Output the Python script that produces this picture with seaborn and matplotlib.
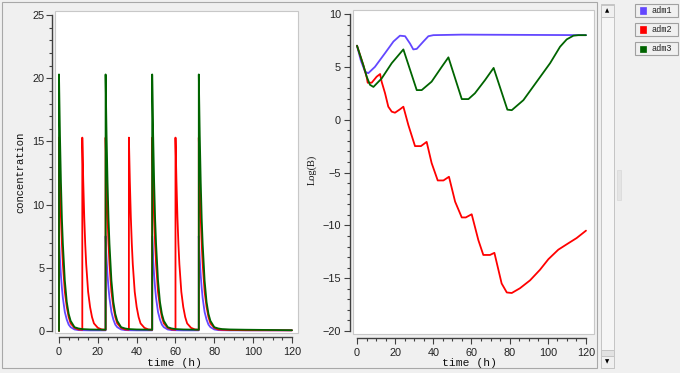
import numpy as np
import pandas as pd
import matplotlib
matplotlib.use("Agg")
import matplotlib.pyplot as plt
import seaborn as sns
from matplotlib.patches import Rectangle
from matplotlib.ticker import MultipleLocator

# ---------------- data ----------------
series_names = ["adm1", "adm2", "adm3"]
series_colors = ["#6347ff", "#ff0000", "#006400"]

# dosing times (h)
dose_times_adm1 = [0, 24, 48, 72]
dose_times_adm2 = [0, 12, 24, 36, 48, 60, 72]
dose_times_adm3 = [0, 24, 48, 72]

# concentration after one dose, read at these hours after the dose
profile_hours = [0, 0.5, 1, 1.5, 2, 3, 4, 5, 6, 8, 10, 12, 16, 24, 48]
profile_adm1 = [7.5, 5.7, 4.4, 3.4, 2.6, 1.5, 0.9, 0.5, 0.3, 0.12, 0.07, 0.06, 0.05, 0.05, 0.05]
profile_adm2 = [15.3, 11.8, 9.0, 6.9, 5.3, 3.1, 1.9, 1.1, 0.6, 0.25, 0.12, 0.1, 0.08, 0.06, 0.05]
profile_adm3 = [20.3, 15.5, 11.8, 8.9, 6.9, 4.0, 2.3, 1.35, 0.8, 0.3, 0.2, 0.15, 0.12, 0.1, 0.06]

# Log(B) curves
logb_time_adm1 = [0, 2, 4.2, 5.9, 9.4, 14.7, 19.1, 22.5, 25.2, 27.8, 29.5, 31.3, 34.8, 37.4, 40, 55, 120]
logb_adm1 = [7.0, 5.6, 4.55, 4.4, 5.0, 6.3, 7.4, 7.95, 7.9, 7.2, 6.65, 6.7, 7.4, 7.9, 8.0, 8.05, 8.0]

logb_time_adm2 = [0, 3.3, 5.1, 5.6, 7.7, 10.3, 12.1, 12.9, 14.7, 16.4, 18.2, 19.9, 22.5, 24.3,
                  26.9, 30.4, 33.5, 36.5, 39.1, 42.3, 45.3, 48.2, 51.4, 54.9, 57.0, 60.1,
                  63.6, 66.2, 69.7, 72.0, 75.8, 78.5, 81.1, 85.4, 90.7, 95.9, 100.3, 105.5,
                  110.7, 115.1, 120]
logb_adm2 = [7.0, 5.17, 4.0, 3.5, 3.5, 4.07, 4.32, 3.6, 2.5, 1.23, 0.76, 0.66, 0.98, 1.23,
             -0.5, -2.5, -2.5, -2.1, -4.1, -5.75, -5.75, -5.4, -7.75, -9.25, -9.25, -8.95,
             -11.4, -12.8, -12.8, -12.6, -15.5, -16.35, -16.4, -15.95, -15.2, -14.2, -13.2,
             -12.3, -11.7, -11.2, -10.5]

logb_time_adm3 = [0, 3.3, 5.1, 6.8, 8.6, 12.9, 18.2, 24.3, 31.3, 33.9, 39.1, 44.4, 47.9,
                  54.9, 58.4, 61.8, 67.1, 71.6, 78.8, 81.1, 87.2, 94.2, 101.2, 106.4, 109.9,
                  113.4, 116, 120]
logb_adm3 = [7.0, 5.17, 4.07, 3.3, 3.1, 3.9, 5.35, 6.65, 2.8, 2.8, 3.6, 5.0, 5.9,
             1.95, 1.95, 2.5, 3.75, 4.9, 0.95, 0.9, 1.85, 3.6, 5.35, 6.9, 7.6,
             7.95, 8.0, 8.0]

x_label = "time (h)"
y_label_left = "concentration"
y_label_right = "Log(B)"

# ---------------- build tables ----------------
def build(doses, prof, t_end=120):
    ts, cs = [], []
    for i, d in enumerate(doses):
        end = doses[i + 1] if i + 1 < len(doses) else t_end
        prev = cs[-1] if cs else 0.0
        ts.append(d); cs.append(prev)
        for h, v in zip(profile_hours, prof):
            if d + h <= end:
                ts.append(d + h); cs.append(v)
        if ts[-1] < end:
            ts.append(end); cs.append(float(np.interp(end - d, profile_hours, prof)))
    return ts, cs

frames = []
for name, doses, prof in zip(series_names,
                             [dose_times_adm1, dose_times_adm2, dose_times_adm3],
                             [profile_adm1, profile_adm2, profile_adm3]):
    t, c = build(doses, prof)
    frames.append(pd.DataFrame({"time": t, "value": c, "admin": name}))
conc_df = pd.concat(frames, ignore_index=True)

log_df = pd.concat([
    pd.DataFrame({"time": logb_time_adm1, "value": logb_adm1, "admin": "adm1"}),
    pd.DataFrame({"time": logb_time_adm2, "value": logb_adm2, "admin": "adm2"}),
    pd.DataFrame({"time": logb_time_adm3, "value": logb_adm3, "admin": "adm3"}),
], ignore_index=True)

palette = dict(zip(series_names, series_colors))

# ---------------- figure ----------------
sns.set_theme(style="white")
plt.rcParams["font.family"] = ["Liberation Sans", "DejaVu Sans"]

W, H = 680, 373
fig = plt.figure(figsize=(W / 100, H / 100), dpi=100, facecolor="#f0f0f0")

def fx(px):
    return px / W

def fy(py):
    return 1 - py / H

ax1 = fig.add_axes([fx(55), fy(333), 243 / W, 322 / H])
ax2 = fig.add_axes([fx(353), fy(334), 241 / W, 324 / H])

sns.lineplot(data=conc_df, x="time", y="value", hue="admin", palette=palette,
             sort=False, estimator=None, legend=False, lw=1.3, ax=ax1)
sns.lineplot(data=log_df, x="time", y="value", hue="admin", palette=palette,
             sort=False, estimator=None, legend=False, lw=1.3, ax=ax2)

ax1.set_xlim(-2.06, 123.1)
ax1.set_ylim(-0.16, 25.32)
ax2.set_xlim(-2.1, 124.2)
ax2.set_ylim(-20.28, 10.38)

for ax, (ymaj, ylo, yhi), lpad in [(ax1, (5, 0, 25), 1.2), (ax2, (5, -20, 10), 2.5)]:
    ax.set_facecolor("white")
    ax.set_xlabel("")
    ax.set_ylabel("")
    ax.grid(False)
    ax.spines["top"].set_visible(False)
    ax.spines["right"].set_visible(False)
    for s in ("left", "bottom"):
        ax.spines[s].set_color("#404040")
        ax.spines[s].set_linewidth(1.0)
    ax.spines["left"].set_position(("outward", 2.0))
    ax.spines["bottom"].set_position(("outward", 3.0))
    ax.spines["left"].set_bounds(ylo, yhi)
    ax.spines["bottom"].set_bounds(0, 120)
    ax.xaxis.set_major_locator(MultipleLocator(20))
    ax.xaxis.set_minor_locator(MultipleLocator(5))
    ax.yaxis.set_major_locator(MultipleLocator(ymaj))
    ax.yaxis.set_minor_locator(MultipleLocator(1))
    ax.tick_params(which="both", direction="out", color="#404040", width=0.8,
                   labelsize=7.8, labelcolor="#222222", bottom=True, left=True)
    ax.tick_params(which="major", length=4.2)
    ax.tick_params(which="minor", length=2.2)
    ax.tick_params(axis="y", which="major", pad=lpad)
    ax.tick_params(axis="x", which="major", pad=3)
    ax.add_patch(Rectangle((0, 0), 1, 1, transform=ax.transAxes, fill=False,
                           ec="#c8c8c8", lw=0.8, clip_on=False, zorder=0.5))

# axis labels
fig.text(fx(175), fy(363), x_label, ha="center", va="center",
         family="Liberation Mono", fontsize=8.2, color="#111111")
fig.text(fx(470), fy(363), x_label, ha="center", va="center",
         family="Liberation Mono", fontsize=8.2, color="#111111")
fig.text(fx(20), fy(172), y_label_left, rotation=90, ha="center", va="center",
         family="Liberation Mono", fontsize=7.6, color="#111111")
fig.text(fx(312), fy(170), y_label_right, rotation=90, ha="center", va="center",
         family="Liberation Serif", fontsize=7.5, color="#111111")

# panel frame
fig.add_artist(Rectangle((fx(2), fy(368)), 595 / W, 366 / H, transform=fig.transFigure,
                         fill=False, ec="#a8a8a8", lw=0.8))

# scrollbar
fig.add_artist(Rectangle((fx(601), fy(368)), 13 / W, 364 / H, transform=fig.transFigure,
                         fc="#f6f6f6", ec="#c4c4c4", lw=0.7))
fig.add_artist(Rectangle((fx(601), fy(17)), 13 / W, 12 / H, transform=fig.transFigure,
                         fc="#f0f0f0", ec="#c4c4c4", lw=0.7))
fig.add_artist(Rectangle((fx(601), fy(368)), 13 / W, 12 / H, transform=fig.transFigure,
                         fc="#f0f0f0", ec="#c4c4c4", lw=0.7))
fig.add_artist(Rectangle((fx(601), fy(356)), 13 / W, 6 / H, transform=fig.transFigure,
                         fc="#e2e2e2", ec="#c4c4c4", lw=0.7))
fig.text(fx(607.5), fy(11), "\u25b2", ha="center", va="center", fontsize=4,
         family="DejaVu Sans", color="#000000")
fig.text(fx(607.5), fy(362), "\u25bc", ha="center", va="center", fontsize=4,
         family="DejaVu Sans", color="#000000")
# splitter grip
fig.add_artist(Rectangle((fx(617), fy(200)), 4 / W, 30 / H, transform=fig.transFigure,
                         fc="#e4e4e4", ec="#d8d8d8", lw=0.5))

# legend boxes
box_tops = [4, 23, 42]
for name, col, top in zip(series_names, series_colors, box_tops):
    fig.add_artist(Rectangle((fx(635), fy(top + 13)), 43 / W, 13 / H,
                             transform=fig.transFigure, fc="#f0f0f0", ec="#a0a0a0", lw=0.8))
    fig.add_artist(Rectangle((fx(640), fy(top + 9.5)), 6 / W, 6 / H,
                             transform=fig.transFigure, fc=col, ec=col, lw=0.5))
    fig.text(fx(651), fy(top + 6.7), name, ha="left", va="center",
             family="Liberation Mono", fontsize=6.2, color="#222222")

fig.savefig("out.png", dpi=100, facecolor=fig.get_facecolor())
